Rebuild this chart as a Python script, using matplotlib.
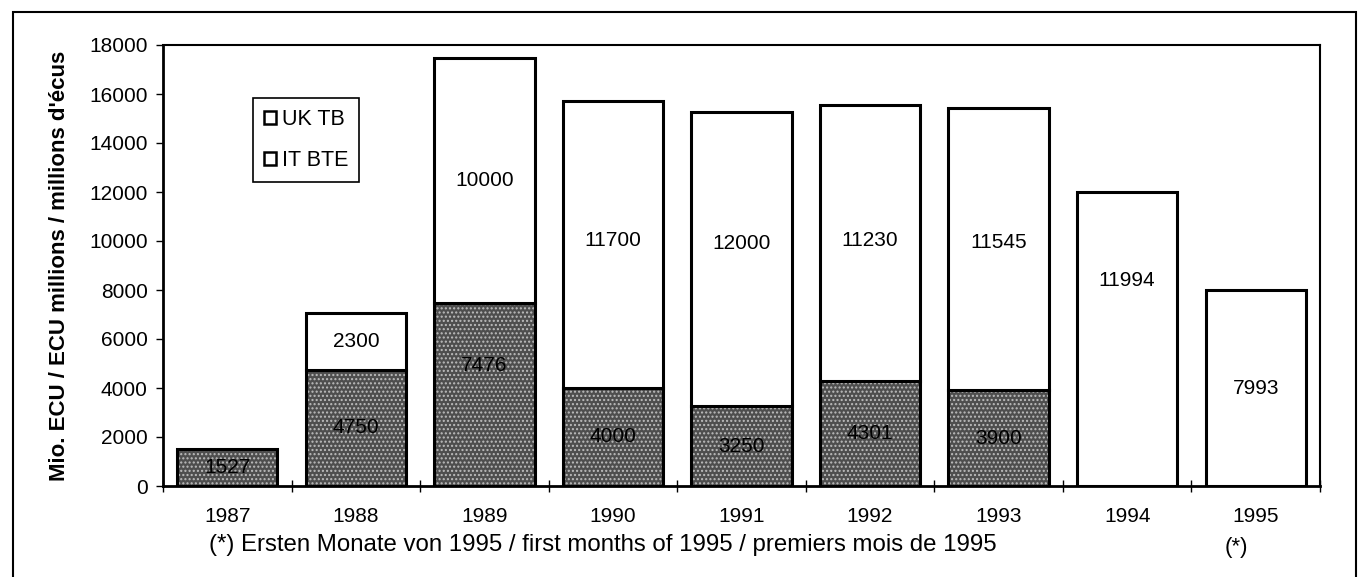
import matplotlib
matplotlib.use("Agg")
import matplotlib.pyplot as plt
from matplotlib.patches import Patch, Rectangle
import numpy as np

plt.rcParams['font.family'] = ['Liberation Sans', 'DejaVu Sans']
plt.rcParams['hatch.linewidth'] = 1.0

years = ["1987", "1988", "1989", "1990", "1991", "1992", "1993", "1994", "1995"]
it_bte = [1527, 4750, 7476, 4000, 3250, 4301, 3900, 0, 0]
uk_tb = [0, 2300, 10000, 11700, 12000, 11230, 11545, 11994, 7993]
series_names = ["UK TB", "IT BTE"]
ylabel = "Mio. ECU / ECU millions / millions d'écus"
note = "(*) Ersten Monate von 1995 / first months of 1995 / premiers mois de 1995"
yticks = [0, 2000, 4000, 6000, 8000, 10000, 12000, 14000, 16000, 18000]

fig = plt.figure(figsize=(13.6, 5.77), dpi=100)
ax = fig.add_axes([163/1360, 1-486/577, (1320-163)/1360, (486-45)/577])

x = np.arange(len(years))
w = 0.78
it = np.array(it_bte)
uk = np.array(uk_tb)

# IT BTE stippled grey
ax.bar(x, it, w, color='#4e4e4e', edgecolor='#bdbdbd', linewidth=0, hatch='....', zorder=2)
ax.bar(x[it > 0], it[it > 0], w, fill=False, edgecolor='black', linewidth=2.2, zorder=3)
# UK TB white on top
ax.bar(x[uk > 0], uk[uk > 0], w, bottom=it[uk > 0], color='white', edgecolor='black', linewidth=2.2, zorder=3)

fs = 15
# label positions (segment centre, with slight offsets as in original)
it_label_y = {2: 4900}
uk_label_y = {3: 10000, 4: 9900, 5: 10000, 6: 9950, 7: 8400}
for i in range(len(years)):
    if it[i] > 0:
        yy = it_label_y.get(i, it[i] / 2)
        ax.text(x[i], yy, str(it[i]), ha='center', va='center', fontsize=fs, zorder=4)
    if uk[i] > 0:
        yy = uk_label_y.get(i, it[i] + uk[i] / 2)
        ax.text(x[i], yy, str(uk[i]), ha='center', va='center', fontsize=fs, zorder=4)

ax.set_xlim(-0.5, len(years) - 0.5)
ax.set_ylim(0, 18000)
ax.set_yticks(yticks)
ax.set_yticklabels([str(v) for v in yticks], fontsize=fs)
ax.tick_params(axis='y', direction='out', length=5, width=1, pad=6)
ax.set_xticks(x)
ax.set_xticklabels(years, fontsize=fs)
ax.tick_params(axis='x', which='major', length=0, pad=15)
ax.set_xticks(np.arange(len(years) + 1) - 0.5, minor=True)
ax.tick_params(axis='x', which='minor', direction='inout', length=8, width=1)
for s in ax.spines.values():
    s.set_linewidth(1.5)
ax.spines['left'].set_linewidth(2)
ax.spines['bottom'].set_linewidth(2)

ax.set_ylabel(ylabel, fontsize=16, fontweight='bold')
ax.yaxis.set_label_coords((70-163)/1157, 0.5)

handles = [Patch(facecolor='white', edgecolor='black', linewidth=1.8),
           Patch(facecolor='white', edgecolor='black', linewidth=1.8)]
leg = ax.legend(handles, series_names, loc='upper left',
                bbox_to_anchor=((253-163)/1157, (486-98)/441),
                fontsize=15.5, handlelength=0.55, handleheight=0.55, handletextpad=0.3,
                labelspacing=0.95, borderpad=0.5, borderaxespad=0, fancybox=False,
                framealpha=1, edgecolor='black')
leg.get_frame().set_linewidth(1.2)

fig.text(603/1360, 1-545/577, note, ha='center', va='center', fontsize=17.3)
fig.text(1236/1360, 1-547/577, "(*)", ha='center', va='center', fontsize=16)

frame = Rectangle((13/1360, -0.05), (1356-13)/1360, 1-12/577 + 0.05, transform=fig.transFigure,
                  fill=False, edgecolor='black', linewidth=1.5, clip_on=False)
fig.patches.append(frame)

fig.savefig("out.png", dpi=100)
